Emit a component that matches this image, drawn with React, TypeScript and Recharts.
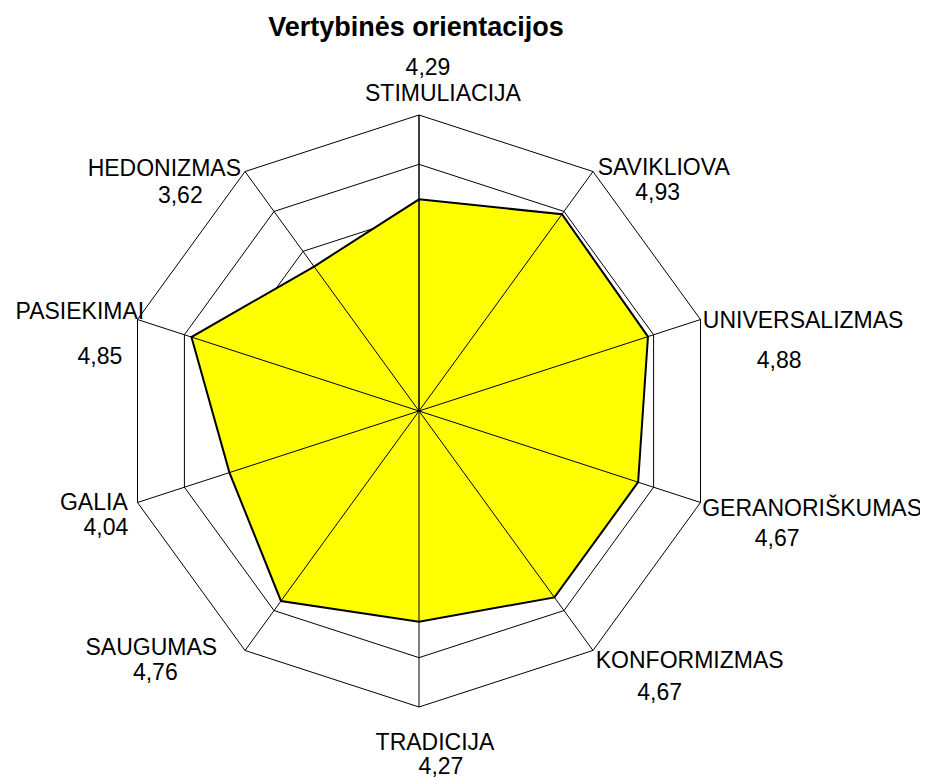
import { RadarChart, Radar, PolarGrid, PolarAngleAxis, PolarRadiusAxis } from "recharts"

const categories = [
  "STIMULIACIJA",
  "SAVIKLIOVA",
  "UNIVERSALIZMAS",
  "GERANORIŠKUMAS",
  "KONFORMIZMAS",
  "TRADICIJA",
  "SAUGUMAS",
  "GALIA",
  "PASIEKIMAI",
  "HEDONIZMAS",
]
const values = [4.29, 4.93, 4.88, 4.67, 4.67, 4.27, 4.76, 4.04, 4.85, 3.62]
const radiusTicks = [0, 1, 2, 3, 4, 5, 6]

// label placement relative to each tick point: [nameDx, nameDy, valueDx, valueDy]
const labelOffsets = [
  [24, -14, 9, -40],
  [66, 2, 60, 27],
  [95, 3, 71, 43],
  [104, 3, 69, 33],
  [92, 3, 62, 35],
  [16, 27, 22, 51],
  [-89, -10, -85, 15],
  [-36, -3, -24, 22],
  [-50, -6, -30, 39],
  [-76, 3, -60, 30],
]

const data = categories.map((name, i) => ({ name, value: values[i] }))

const fmt = (v: number) => v.toFixed(2).replace(".", ",")

const font = "Arial, 'Liberation Sans', sans-serif"

function AxisLabel(props: any) {
  const { x, y, payload, index } = props
  const i = typeof index === "number" ? index : categories.indexOf(payload.value)
  const [nx, ny, vx, vy] = labelOffsets[i]
  const common = { textAnchor: "middle" as const, dominantBaseline: "central" as const, fontSize: 23, fontFamily: font, fill: "#000" }
  return (
    <g>
      <text x={x + nx} y={y + ny} {...common}>
        {payload.value}
      </text>
      <text x={x + vx} y={y + vy} {...common}>
        {fmt(values[i])}
      </text>
    </g>
  )
}

export default function App() {
  return (
    <div style={{ position: "relative", width: 920, height: 770, background: "#fff" }}>
      <div
        style={{
          position: "absolute",
          left: 0,
          top: 4,
          width: 816,
          textAlign: "center",
          fontFamily: font,
          fontWeight: "bold",
          fontSize: 27,
          lineHeight: "30px",
        }}
      >
        Vertybinės orientacijos
      </div>
      <RadarChart width={920} height={770} data={data} cx={411} cy={403} outerRadius={296}>
        <PolarGrid gridType="polygon" radialLines={false} stroke="#000" strokeOpacity={1} />
        <PolarAngleAxis dataKey="name" tick={<AxisLabel />} tickLine={false} axisLine={false} />
        <Radar
          dataKey="value"
          stroke="#000"
          strokeWidth={2}
          fill="#FFFF00"
          fillOpacity={1}
          isAnimationActive={false}
        />
        <PolarGrid
          gridType="polygon"
          polarRadius={[]}
          radialLines={true}
          stroke="#000"
          strokeOpacity={1}
          {...({ zIndex: 150 } as any)}
        />
        <PolarRadiusAxis
          domain={[0, 6]}
          ticks={radiusTicks as any}
          tickCount={7}
          angle={90}
          tick={false}
          axisLine={{ stroke: "#000", strokeOpacity: 0.5, strokeWidth: 2 }}
        />
      </RadarChart>
    </div>
  )
}
